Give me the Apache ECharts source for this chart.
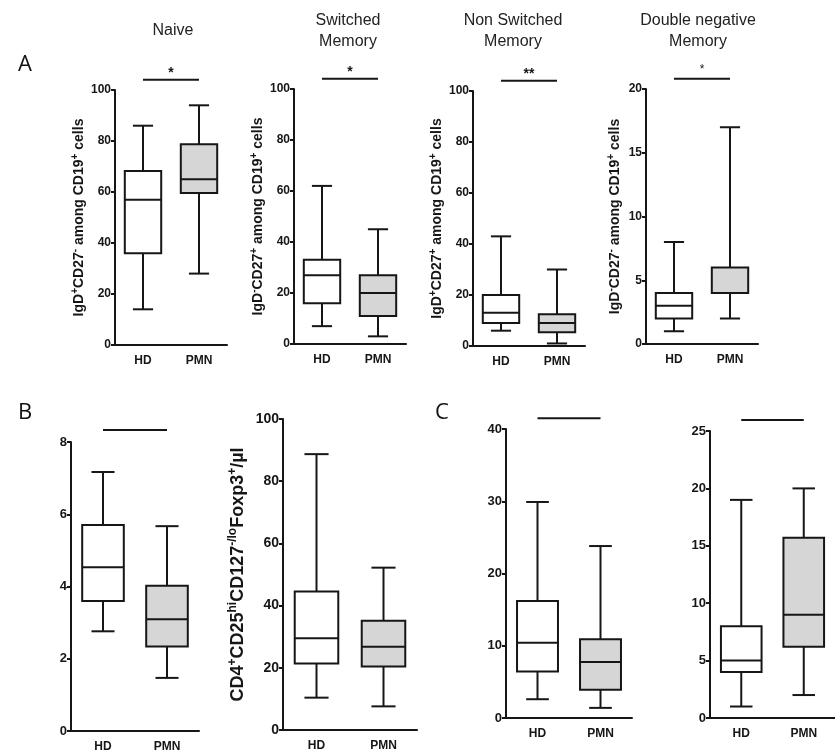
<!DOCTYPE html>
<html>
<head>
<meta charset="utf-8">
<script src="https://cdn.jsdelivr.net/npm/echarts@6/dist/echarts.min.js"></script>
<style>html,body{margin:0;padding:0;background:#fff}#c{width:835px;height:753px}</style>
</head>
<body>
<div id="c"></div>
<script>
// ---- data: [min, Q1, median, Q3, max] per group ----
const categories = ['HD', 'PMN'];
const naiveHD = [14, 36, 57, 68.2, 86];
const naivePMN = [28, 59.6, 65, 78.7, 94];
const switchedHD = [7, 16, 27, 33, 62];
const switchedPMN = [3, 11, 20, 27, 45];
const nonSwitchedHD = [6, 9, 13, 20, 43];
const nonSwitchedPMN = [1, 5.4, 9, 12.5, 30];
const doubleNegHD = [1, 2, 3, 4, 8];
const doubleNegPMN = [2, 4, 4, 6, 17];
const b1HD = [2.76, 3.6, 4.53, 5.7, 7.17];
const b1PMN = [1.47, 2.34, 3.09, 4.02, 5.67];
const tregHD = [10.4, 21.4, 29.5, 44.5, 88.7];
const tregPMN = [7.6, 20.4, 26.8, 35.1, 52.2];
const c1HD = [2.6, 6.45, 10.4, 16.2, 29.9];
const c1PMN = [1.4, 3.9, 7.75, 10.9, 23.8];
const c2HD = [1, 4, 5, 8, 19];
const c2PMN = [2, 6.2, 9, 15.7, 20];
// y-axis ranges [min, max, interval]
const axisA = [0, 100, 20];
const axisA4 = [0, 20, 5];
const axisB1 = [0, 8, 2];
const axisB2 = [0, 100, 20];
const axisC1 = [0, 40, 10];
const axisC2 = [0, 25, 5];
// significance bar heights (data units) and labels
const sigLevels = [104, 104, 104, 20.8, 8.33, null, 41.5, 25.96];
const sigLabels = ['*', '*', '**', '*', '', '', '', ''];
const panelTitles = ['Naive', 'Switched\nMemory', 'Non Switched\nMemory', 'Double negative\nMemory'];

const FONT = '"Liberation Sans", Arial, sans-serif';
const INK = '#161616';
const GRAY = '#d6d6d6';

const panels = [
  {grid: {left: 115, top: 90, width: 112, height: 255}, axis: axisA, data: [naiveHD, naivePMN], tick: 12, cat: 12,
   name: '{b|IgD}{s|+}{b|CD27}{s|-}{b| among CD19}{s|+}{b| cells}', nameGap: 27, nameSize: 14},
  {grid: {left: 294, top: 89, width: 112, height: 255}, axis: axisA, data: [switchedHD, switchedPMN], tick: 12, cat: 12,
   name: '{b|IgD}{s|-}{b|CD27}{s|+}{b| among CD19}{s|+}{b| cells}', nameGap: 27, nameSize: 14},
  {grid: {left: 473, top: 91, width: 112, height: 255}, axis: axisA, data: [nonSwitchedHD, nonSwitchedPMN], tick: 12, cat: 12,
   name: '{b|IgD}{s|+}{b|CD27}{s|+}{b| among CD19}{s|+}{b| cells}', nameGap: 27, nameSize: 14},
  {grid: {left: 646, top: 89, width: 112, height: 255}, axis: axisA4, data: [doubleNegHD, doubleNegPMN], tick: 12, cat: 12,
   name: '{b|IgD}{s|-}{b|CD27}{s|-}{b| among CD19}{s|+}{b| cells}', nameGap: 22, nameSize: 14},
  {grid: {left: 71, top: 442, width: 128, height: 290}, axis: axisB1, data: [b1HD, b1PMN], tick: 13, cat: 12, name: ''},
  {grid: {left: 283, top: 419, width: 134, height: 311}, axis: axisB2, data: [tregHD, tregPMN], tick: 14, cat: 12,
   name: '{b|CD4}{s|+}{b|CD25}{s|hi}{b|CD127}{s|-/lo}{b|Foxp3}{s|+}{b|/µl}', nameGap: 34, nameSize: 18},
  {grid: {left: 506, top: 429, width: 126, height: 289}, axis: axisC1, data: [c1HD, c1PMN], tick: 13, cat: 12, name: ''},
  {grid: {left: 710, top: 431, width: 126, height: 287}, axis: axisC2, data: [c2HD, c2PMN], tick: 13, cat: 12, name: ''}
];

function boxRenderer(params, api) {
  const ci = api.value(0);
  const v = [api.value(1), api.value(2), api.value(3), api.value(4), api.value(5)];
  const band = api.size([1, 0])[0];
  const bw = band * 0.65, cw = band * 0.36;
  const p = v.map(val => api.coord([ci, val]));
  const x = p[0][0];
  const ls = {stroke: INK, lineWidth: 2};
  const fill = ci === 0 ? '#ffffff' : GRAY;
  return {type: 'group', children: [
    {type: 'line', shape: {x1: x, y1: p[0][1], x2: x, y2: p[1][1]}, style: ls},
    {type: 'line', shape: {x1: x, y1: p[3][1], x2: x, y2: p[4][1]}, style: ls},
    {type: 'line', shape: {x1: x - cw / 2, y1: p[0][1], x2: x + cw / 2, y2: p[0][1]}, style: ls},
    {type: 'line', shape: {x1: x - cw / 2, y1: p[4][1], x2: x + cw / 2, y2: p[4][1]}, style: ls},
    {type: 'rect', shape: {x: x - bw / 2, y: p[3][1], width: bw, height: p[1][1] - p[3][1]}, style: {fill: fill, stroke: INK, lineWidth: 2}},
    {type: 'line', shape: {x1: x - bw / 2, y1: p[2][1], x2: x + bw / 2, y2: p[2][1]}, style: ls}
  ]};
}

function sigRenderer(label, small) {
  return function (params, api) {
    const a = api.coord([api.value(0), api.value(2)]);
    const b = api.coord([api.value(1), api.value(2)]);
    const ch = [{type: 'line', shape: {x1: a[0], y1: a[1], x2: b[0], y2: b[1]}, style: {stroke: INK, lineWidth: 2}}];
    if (label) {
      ch.push({type: 'text', x: (a[0] + b[0]) / 2, y: a[1] - (small ? 3 : 0),
        style: {text: label, textAlign: 'center', textVerticalAlign: 'bottom', fill: INK,
          font: (small ? 'normal 12px ' : 'bold 14px ') + FONT}});
    }
    return {type: 'group', children: ch};
  };
}

const grids = [], xAxes = [], yAxes = [], series = [];
panels.forEach((pn, i) => {
  grids.push(pn.grid);
  xAxes.push({
    type: 'category', gridIndex: i, data: categories, boundaryGap: true,
    axisLine: {lineStyle: {color: INK, width: 2}},
    axisTick: {alignWithLabel: true, length: 4, lineStyle: {color: INK, width: 2}},
    axisLabel: {color: INK, fontFamily: FONT, fontWeight: 'bold', fontSize: pn.cat, margin: 10},
    splitLine: {show: false}
  });
  yAxes.push({
    type: 'value', gridIndex: i, min: pn.axis[0], max: pn.axis[1], interval: pn.axis[2],
    axisLine: {show: true, lineStyle: {color: INK, width: 2}},
    axisTick: {show: true, length: 4, lineStyle: {color: INK, width: 2}},
    axisLabel: {color: INK, fontFamily: FONT, fontWeight: 'bold', fontSize: pn.tick, margin: 4},
    splitLine: {show: false},
    name: pn.name, nameLocation: 'middle', nameGap: pn.nameGap || 0, nameRotate: 90,
    nameTextStyle: {
      rich: {
        b: {fontFamily: FONT, fontWeight: 'bold', fontSize: pn.nameSize || 13, color: INK, lineHeight: (pn.nameSize || 13) + 4},
        s: {fontFamily: FONT, fontWeight: 'bold', fontSize: Math.round((pn.nameSize || 13) * 0.68), color: INK,
            lineHeight: Math.round((pn.nameSize || 13) * 0.7), verticalAlign: 'top'}
      }
    }
  });
  series.push({
    type: 'custom', xAxisIndex: i, yAxisIndex: i, clip: false, renderItem: boxRenderer,
    data: pn.data.map((d, k) => [k].concat(d)), silent: true, animation: false
  });
  if (sigLevels[i] !== null) {
    series.push({
      type: 'custom', xAxisIndex: i, yAxisIndex: i, clip: false,
      renderItem: sigRenderer(sigLabels[i], i === 3),
      data: [[0, 1, sigLevels[i]]], silent: true, animation: false
    });
  }
});

const titleCenters = [173, 348, 513, 698];
const graphics = panelTitles.map((t, i) => ({
  type: 'text', x: titleCenters[i], y: t.indexOf('\n') >= 0 ? 10 : 20,
  style: {text: t, textAlign: 'center', textVerticalAlign: 'top', font: 'normal 16px ' + FONT, fill: '#222', lineHeight: 21}
}));
[['A', 18, 54], ['B', 18, 402], ['C', 435, 402]].forEach(l => graphics.push({
  type: 'text', x: l[1], y: l[2],
  style: {text: l[0], textAlign: 'left', textVerticalAlign: 'top', font: 'normal 22px "Open Sans", ' + FONT, fill: '#111'}
}));

const chart = echarts.init(document.getElementById('c'), null, {renderer: 'canvas'});
chart.setOption({
  animation: false,
  backgroundColor: '#ffffff',
  grid: grids, xAxis: xAxes, yAxis: yAxes, series: series, graphic: graphics
});
</script>
</body>
</html>
